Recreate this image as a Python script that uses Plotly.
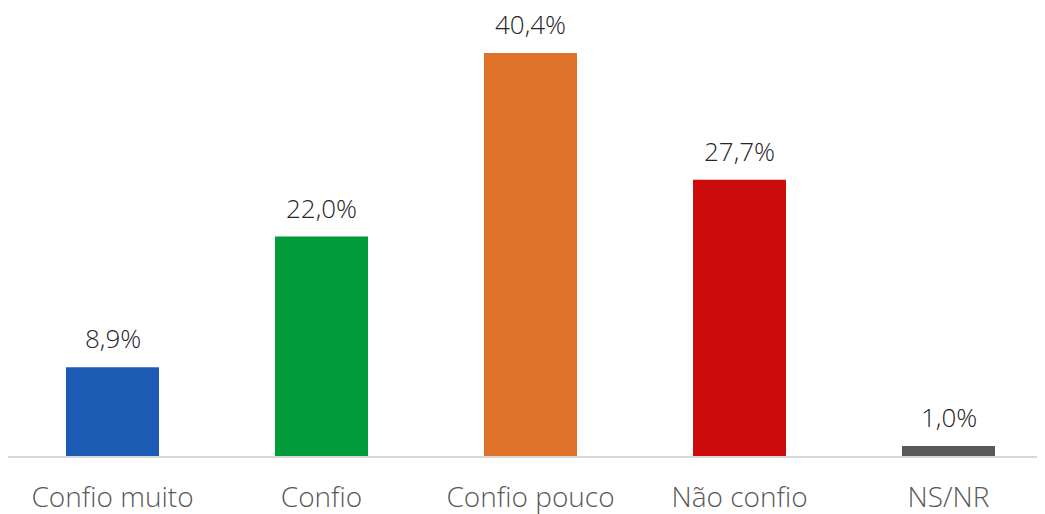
import plotly.graph_objects as go

categorias = ['Confio muito', 'Confio', 'Confio pouco', 'Não confio', 'NS/NR']
valores = [8.9, 22.0, 40.4, 27.7, 1.0]
cores = ['#1B5BB3', '#009C3B', '#DD7228', '#CC0C0C', '#595959']

rotulos = [f'{v:.1f}%'.replace('.', ',') for v in valores]

fig = go.Figure(go.Bar(x=categorias, y=valores, marker_color=cores,
                       marker_line_width=0, width=0.445, hoverinfo='skip'))

for c, v, t in zip(categorias, valores, rotulos):
    fig.add_annotation(x=c, y=v, text=t, showarrow=False, yanchor='bottom',
                       yshift=10, borderpad=0,
                       font=dict(size=26, color='#262626', weight=300))

fig.update_layout(
    width=1045, height=514,
    margin=dict(l=0, r=0, t=20, b=66, autoexpand=False),
    plot_bgcolor='white', paper_bgcolor='white',
    font=dict(family='Open Sans, sans-serif'),
    showlegend=False,
)
fig.update_xaxes(range=[-0.5, 4.5], showline=True, linecolor='#D9D9D9', linewidth=2,
                 ticks='', ticklabelstandoff=15,
                 tickfont=dict(size=28, color='#595959', weight=300))
fig.update_yaxes(range=[0, 42.9], visible=False, showgrid=False)

fig.write_html('out.html')
